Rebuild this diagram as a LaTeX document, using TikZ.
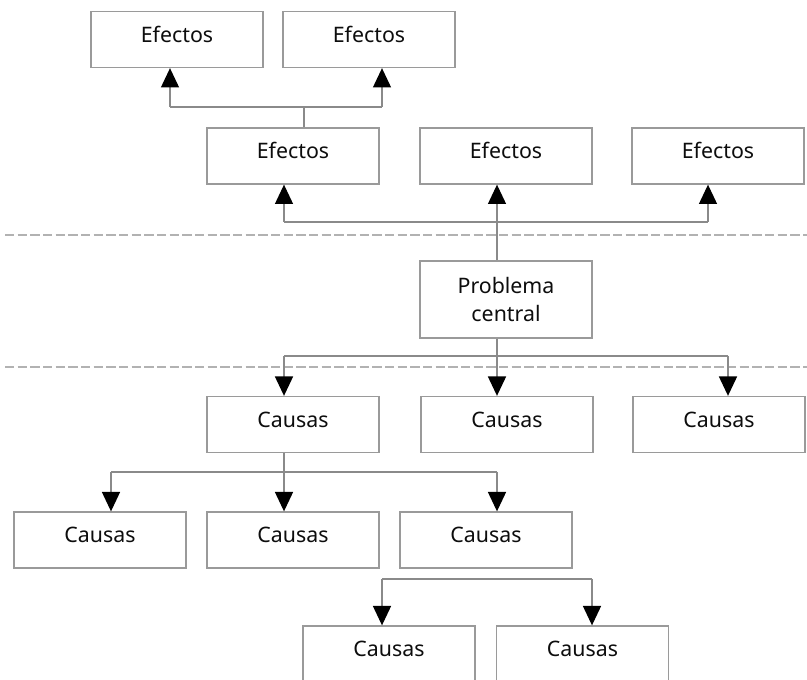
\documentclass[tikz,border=0pt]{standalone}
\usepackage{fontspec}
\setmainfont{Noto Sans}
\usetikzlibrary{arrows.meta}
\definecolor{boxgray}{HTML}{9A9A9A}
\definecolor{lngray}{HTML}{8A8A8A}
\tikzset{
  bxbase/.style={draw=boxgray, line width=1pt, fill=white, minimum width=129pt, minimum height=42pt, inner sep=0pt, align=center, text=black!95, font=\fontsize{16}{21}\selectfont},
  bx/.style={bxbase, text height=5pt, text depth=1pt},
  ln/.style={draw=lngray, line width=1pt},
  arr/.style={ln, -{Triangle[width=13.5pt,length=14.5pt,fill=black,color=black]}},
  sep/.style={draw=gray!60, line width=0.9pt, dash pattern=on 7pt off 2.5pt}
}
\begin{document}
\begin{tikzpicture}[x=0.75pt,y=-0.75pt]
\clip (0,0) rectangle (807,680);
\useasboundingbox (0,0) rectangle (807,680);
\fill[white] (0,0) rectangle (807,680);
% separators
\draw[sep] (5,235) -- (807,235);
\draw[sep] (5,367) -- (807,367);
% boxes
\node[bx] (E1) at (177,39.5) {Efectos};
\node[bx] (E2) at (369,39.5) {Efectos};
\node[bx] (E3) at (293,156) {Efectos};
\node[bx] (E4) at (506,156) {Efectos};
\node[bx] (E5) at (718,156) {Efectos};
\node[bxbase, minimum height=57.75pt] (P) at (506,299.5) {Problema\\central};
\node[bx] (C1) at (293,424.5) {Causas};
\node[bx] (C2) at (507,424.5) {Causas};
\node[bx] (C3) at (719,424.5) {Causas};
\node[bx] (C4) at (100,540) {Causas};
\node[bx] (C5) at (293,540) {Causas};
\node[bx] (C6) at (486,540) {Causas};
\node[bx] (C7) at (389,654) {Causas};
\node[bx] (C8) at (582.5,654) {Causas};
% row 1 connectors
\coordinate (h1) at (304,107);
\coordinate (a1) at (170,107);
\coordinate (a2) at (382,107);
\draw[ln] (E3.north -| h1) -- (h1);
\draw[ln] (a1) -- (a2);
\draw[arr] (a1) -- (E1.south -| a1);
\draw[arr] (a2) -- (E2.south -| a2);
% row 2 connectors
\coordinate (b1) at (284,222);
\coordinate (b2) at (497,222);
\coordinate (b3) at (708,222);
\draw[ln] (b1) -- (b3);
\draw[arr] (b1) -- (E3.south -| b1);
\draw[arr] (b3) -- (E5.south -| b3);
\draw[arr] (P.north -| b2) -- (E4.south -| b2);
% causes row 1
\coordinate (c1) at (284,356);
\coordinate (c2) at (497,356);
\coordinate (c3) at (728,356);
\draw[ln] (c1) -- (c3);
\draw[arr] (c1) -- (C1.north -| c1);
\draw[arr] (c3) -- (C3.north -| c3);
\draw[arr] (P.south -| c2) -- (C2.north -| c2);
% causes row 2
\coordinate (d1) at (111,472);
\coordinate (d2) at (284,472);
\coordinate (d3) at (497,472);
\draw[ln] (d1) -- (d3);
\draw[arr] (d1) -- (C4.north -| d1);
\draw[arr] (C1.south -| d2) -- (C5.north -| d2);
\draw[arr] (d3) -- (C6.north -| d3);
% causes row 3
\coordinate (e1) at (382,579);
\coordinate (e2) at (592,579);
\draw[ln] (e1) -- (e2);
\draw[arr] (e1) -- (C7.north -| e1);
\draw[arr] (e2) -- (C8.north -| e2);
\end{tikzpicture}
\end{document}
